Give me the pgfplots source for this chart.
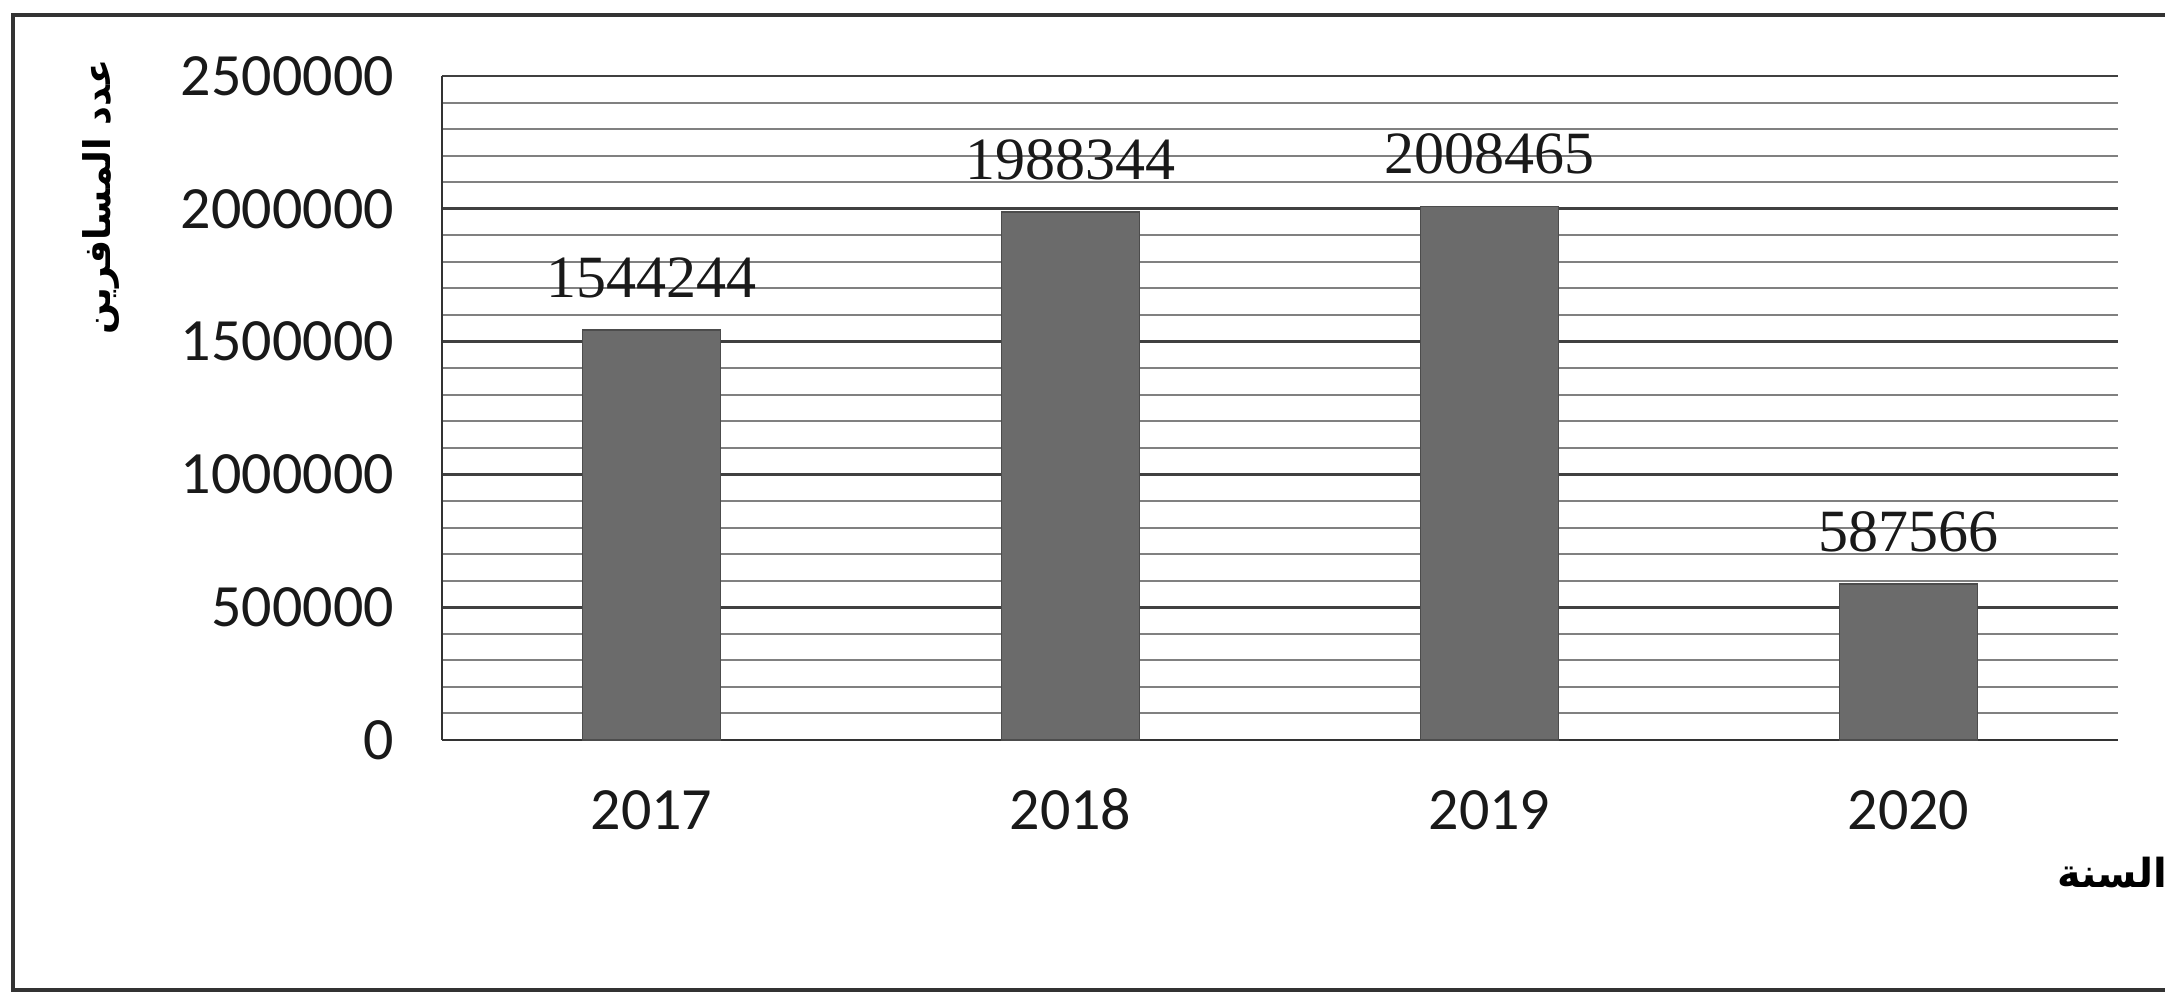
\documentclass[border=0pt]{standalone}
\usepackage{pgfplots}
\pgfplotsset{compat=1.18}
\usepackage{pgfplotstable}
\usepackage{fontspec}
\setmainfont{Carlito}
\newfontfamily\tickfont{Carlito}
\newfontfamily\labfont{Liberation Serif}
\newfontfamily\arabicfont[Script=Arabic]{DejaVu Sans}
\TeXXeTstate=1

\pgfplotstableread{
x y label
0 1544244 1544244
1 1988344 1988344
2 2008465 2008465
3 587566 587566
}\datatable

\begin{document}
\begin{tikzpicture}[x=1pt,y=1pt]
\useasboundingbox (0,0) rectangle (541.25,248.25);
\draw[line width=0.8pt, black!80] (548,244.5) -- (3.25,244.5) -- (3.25,0.75) -- (548,0.75);
\begin{axis}[
  at={(110.5pt,63.25pt)}, anchor=south west,
  scale only axis, width=419pt, height=166pt,
  xmin=-0.5, xmax=3.5, ymin=0, ymax=2500000,
  ytick={0,500000,1000000,1500000,2000000,2500000},
  minor y tick num=4,
  ymajorgrids, yminorgrids,
  major grid style={black!75, line width=0.7pt},
  minor grid style={black!50, line width=0.5pt},
  xtick={0,1,2,3}, xticklabels={2017,2018,2019,2020},
  axis x line*=bottom, axis y line*=left,
  axis line style={-, black!80, line width=0.7pt},
  major tick length=0pt, minor tick length=0pt,
  scaled y ticks=false,
  yticklabel style={/pgf/number format/fixed, /pgf/number format/1000 sep={}},
  /pgf/number format/assume math mode=true,
  ticklabel style={font=\fontsize{15}{17}\tickfont, text=black!90},
  xticklabel style={text height=9.6pt, text depth=0pt},
  yticklabel shift=8.5pt,
  xticklabel shift=9.25pt,
  ybar, bar width=34.5pt,
  nodes near coords, point meta=explicit symbolic,
  every node near coord/.append style={font=\fontsize{15}{17}\labfont, yshift=4.5pt, text=black!90},
  clip=false,
]
\addplot[fill=black!58, draw=black!70] table[x=x, y=y, meta=label] {\datatable};
\end{axis}
\node[rotate=90, font=\fontsize{9.2}{11}\arabicfont\bfseries] at (25.25,199) {\beginR عدد المسافرين\endR};
\node[anchor=east, font=\fontsize{10}{12}\arabicfont\bfseries, inner sep=0pt] at (542,30) {\beginR السنة\endR};
\end{tikzpicture}
\end{document}
